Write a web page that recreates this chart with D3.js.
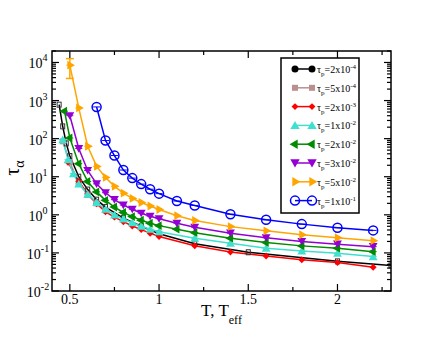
<!DOCTYPE html>
<html>
<head>
<meta charset="utf-8">
<script src="https://cdn.jsdelivr.net/npm/d3@7"></script>
<style>
  body { margin: 0; background: #fff; }
  svg { display: block; font-family: "Liberation Serif", "Times New Roman", serif; }
</style>
</head>
<body>
<div id="chart"></div>
<script>
// ---- data ----
const tBlack   = [0.44, 0.46, 0.48, 0.5, 0.55, 0.6, 0.65, 0.7, 0.8, 0.9, 1.0, 1.2, 1.5, 2.0, 2.3];
const tauBlack = [780, 210, 75, 35, 10, 4.6, 2.5, 1.6, 0.82, 0.5, 0.32, 0.175, 0.104, 0.06, 0.047];

const tBrown   = [0.46, 0.5, 0.55, 0.6, 0.65, 0.7];
const tauBrown = [85, 24, 6.8, 3.3, 2.0, 1.3];

const tRed   = [0.49, 0.55, 0.6, 0.65, 0.7, 0.75, 0.8, 0.85, 0.9, 0.95, 1.0, 1.2, 1.4, 1.6, 1.8, 2.0, 2.2];
const tauRed = [24, 7.5, 3.6, 1.95, 1.2, 0.87, 0.66, 0.51, 0.41, 0.33, 0.27, 0.155, 0.105, 0.083, 0.066, 0.056, 0.042];

const tCyan   = [0.46, 0.49, 0.52, 0.55, 0.6, 0.65, 0.7, 0.75, 0.8, 0.85, 0.9, 0.95, 1.0, 1.2, 1.4, 1.6, 1.8, 2.0, 2.2];
const tauCyan = [94, 28, 12, 6.5, 3.5, 2.1, 1.4, 1.0, 0.78, 0.62, 0.5, 0.42, 0.36, 0.244, 0.18, 0.133, 0.113, 0.098, 0.08];

const tGreen   = [0.47, 0.5, 0.55, 0.6, 0.65, 0.7, 0.75, 0.8, 0.85, 0.9, 0.95, 1.0, 1.1, 1.2, 1.4, 1.6, 1.8, 2.0, 2.2];
const tauGreen = [525, 104, 22, 7.5, 4.0, 2.4, 1.6, 1.15, 0.9, 0.72, 0.6, 0.52, 0.42, 0.34, 0.244, 0.187, 0.153, 0.133, 0.108];

const tPurple   = [0.5, 0.55, 0.6, 0.65, 0.7, 0.75, 0.8, 0.85, 0.9, 0.95, 1.0, 1.1, 1.2, 1.4, 1.6, 1.8, 2.0, 2.2];
const tauPurple = [400, 55, 14.6, 6.5, 3.8, 2.5, 1.8, 1.4, 1.1, 0.92, 0.79, 0.6, 0.47, 0.33, 0.25, 0.2, 0.17, 0.146];

const tOrange   = [0.5, 0.55, 0.6, 0.65, 0.7, 0.75, 0.8, 0.85, 0.9, 0.95, 1.0, 1.1, 1.2, 1.4, 1.6, 1.8, 2.0, 2.2];
const tauOrange = [8500, 640, 63, 18.7, 9.6, 5.6, 3.7, 2.7, 2.1, 1.7, 1.38, 0.95, 0.71, 0.49, 0.38, 0.3, 0.25, 0.21];
const errOrangeLow  = [3800];   // error bar on the first point
const errOrangeHigh = [12600];

const tBlue   = [0.65, 0.7, 0.75, 0.8, 0.85, 0.9, 0.95, 1.0, 1.1, 1.2, 1.4, 1.6, 1.8, 2.0, 2.2];
const tauBlue = [680, 89, 36, 15, 9.2, 6.4, 4.7, 3.6, 2.3, 1.76, 1.04, 0.74, 0.57, 0.46, 0.39];

const legendMantissa = ["2", "5", "2", "1", "2", "3", "5", "1"];
const legendExponent = ["-4", "-4", "-3", "-2", "-2", "-2", "-2", "-1"];

const xTicks = [0.5, 1, 1.5, 2];
const yTickExps = [-2, -1, 0, 1, 2, 3, 4];

// ---- layout ----
const width = 443, height = 342;
const plot = {left: 52, right: 391, top: 51, bottom: 291};

const svg = d3.select("#chart").append("svg")
    .attr("width", width)
    .attr("height", height);

const x = d3.scaleLinear().domain([0.4, 2.3]).range([plot.left, plot.right]);
const y = d3.scaleLog().domain([1e-2, 2e4]).range([plot.bottom, plot.top]);

const series = [
    {t: tBlack,  tau: tauBlack,  color: "#000000", sym: "circle"},
    {t: tBrown,  tau: tauBrown,  color: "#bc8f8f", sym: "square"},
    {t: tRed,    tau: tauRed,    color: "#ff0000", sym: "diamond"},
    {t: tCyan,   tau: tauCyan,   color: "#40e0d0", sym: "up", caps: true},
    {t: tGreen,  tau: tauGreen,  color: "#008b00", sym: "left", caps: true},
    {t: tPurple, tau: tauPurple, color: "#9400d3", sym: "down", caps: true},
    {t: tOrange, tau: tauOrange, color: "#ffa500", sym: "right", caps: true},
    {t: tBlue,   tau: tauBlue,   color: "#0000ff", sym: "open", caps: true}
];

// marker drawing
function drawMarker(g, sym, color, cx, cy, inPlot) {
    const tri = d3.symbol().type(d3.symbolTriangle).size(inPlot ? 34 : 38)();
    if (sym === "circle") {
        if (inPlot) {
            g.append("rect").attr("x", cx - 2).attr("y", cy - 2.5)
                .attr("width", 4).attr("height", 5)
                .attr("fill", "none").attr("stroke", "#333").attr("stroke-width", 1);
        } else {
            g.append("circle").attr("cx", cx).attr("cy", cy).attr("r", 3.5).attr("fill", color);
        }
    } else if (sym === "square") {
        g.append("rect").attr("x", cx - 3).attr("y", cy - 3)
            .attr("width", 6).attr("height", 6).attr("fill", color);
    } else if (sym === "diamond") {
        g.append("path").attr("d", d3.symbol().type(d3.symbolSquare).size(24)())
            .attr("transform", `translate(${cx},${cy}) rotate(45)`).attr("fill", color);
    } else if (sym === "open") {
        g.append("circle").attr("cx", cx).attr("cy", cy).attr("r", 4.5)
            .attr("fill", "none").attr("stroke", color).attr("stroke-width", 1.5);
    } else {
        const rot = {up: 0, right: 90, down: 180, left: 270}[sym];
        g.append("path").attr("d", tri)
            .attr("transform", `translate(${cx},${cy + (sym === "up" ? 1 : sym === "down" ? -1 : 0)}) rotate(${rot})`)
            .attr("fill", color);
    }
}

// ---- data series ----
const dataG = svg.append("g");
const lineGen = d3.line().x(d => x(d[0])).y(d => y(d[1]));

series.forEach(s => {
    const pts = s.t.map((t, i) => [t, s.tau[i]]);
    dataG.append("path")
        .datum(pts)
        .attr("d", lineGen)
        .attr("fill", "none")
        .attr("stroke", s.color)
        .attr("stroke-width", 1.5);
});

// orange error bar on the slowest point
dataG.append("line")
    .attr("x1", x(tOrange[0])).attr("x2", x(tOrange[0]))
    .attr("y1", y(errOrangeLow[0])).attr("y2", y(errOrangeHigh[0]))
    .attr("stroke", "#ffa500").attr("stroke-width", 1.5);
[errOrangeLow[0], errOrangeHigh[0]].forEach(v => {
    dataG.append("line")
        .attr("x1", x(tOrange[0]) - 4).attr("x2", x(tOrange[0]) + 4)
        .attr("y1", y(v)).attr("y2", y(v))
        .attr("stroke", "#ffa500").attr("stroke-width", 1.5);
});

series.forEach(s => {
    s.t.forEach((t, i) => {
        const cx = x(t), cy = y(s.tau[i]);
        drawMarker(dataG, s.sym, s.color, cx, cy, true);
        if (s.caps) {
            dataG.append("line")
                .attr("x1", cx - 3.5).attr("x2", cx + 3.5)
                .attr("y1", cy).attr("y2", cy)
                .attr("stroke", s.color).attr("stroke-width", 1);
        }
    });
});

// clip anything outside: white bands around the frame
svg.append("rect").attr("x", 0).attr("y", 0).attr("width", width).attr("height", plot.top).attr("fill", "#fff");
svg.append("rect").attr("x", plot.right).attr("y", 0).attr("width", width - plot.right).attr("height", height).attr("fill", "#fff");

// ---- axes ----
const axisG = svg.append("g").attr("stroke", "#000").attr("stroke-width", 1.2);

const xMinor = d3.range(0.5, 2.3, 0.25).filter(v => !xTicks.includes(+v.toFixed(2)));
// bottom & top ticks
xTicks.forEach(v => {
    axisG.append("line").attr("x1", x(v)).attr("x2", x(v)).attr("y1", plot.bottom).attr("y2", plot.bottom - 7);
    axisG.append("line").attr("x1", x(v)).attr("x2", x(v)).attr("y1", plot.top).attr("y2", plot.top + 7);
});
xMinor.forEach(v => {
    axisG.append("line").attr("x1", x(v)).attr("x2", x(v)).attr("y1", plot.bottom).attr("y2", plot.bottom - 4);
    axisG.append("line").attr("x1", x(v)).attr("x2", x(v)).attr("y1", plot.top).attr("y2", plot.top + 4);
});

// y ticks (log, with minors)
yTickExps.forEach(e => {
    const v = Math.pow(10, e);
    axisG.append("line").attr("x1", plot.left).attr("x2", plot.left + 7).attr("y1", y(v)).attr("y2", y(v));
    axisG.append("line").attr("x1", plot.right).attr("x2", plot.right - 7).attr("y1", y(v)).attr("y2", y(v));
    for (let k = 2; k <= 9; k++) {
        const mv = k * v;
        if (mv > y.domain()[1]) break;
        axisG.append("line").attr("x1", plot.left).attr("x2", plot.left + 4).attr("y1", y(mv)).attr("y2", y(mv));
        axisG.append("line").attr("x1", plot.right).attr("x2", plot.right - 4).attr("y1", y(mv)).attr("y2", y(mv));
    }
});

// frame
svg.append("rect")
    .attr("x", plot.left).attr("y", plot.top)
    .attr("width", plot.right - plot.left).attr("height", plot.bottom - plot.top)
    .attr("fill", "none").attr("stroke", "#000").attr("stroke-width", 1.5);

// tick labels
svg.append("g").selectAll("text")
    .data(xTicks).enter().append("text")
    .attr("x", d => x(d)).attr("y", plot.bottom + 13)
    .attr("text-anchor", "middle")
    .attr("font-size", 14)
    .text(d => d);

const yl = svg.append("g").selectAll("text")
    .data(yTickExps).enter().append("text")
    .attr("x", 38).attr("y", d => y(Math.pow(10, d)) + 6)
    .attr("text-anchor", "middle")
    .attr("font-size", 14);
yl.append("tspan").text("10");
yl.append("tspan").attr("dy", -7).attr("font-size", 10).text(d => d);

// axis titles
const xt = svg.append("text")
    .attr("x", (plot.left + plot.right) / 2).attr("y", 316)
    .attr("text-anchor", "middle").attr("font-size", 17);
xt.append("tspan").text("T, T");
xt.append("tspan").attr("dy", 8).attr("font-size", 12).text("eff");

const ytl = svg.append("text")
    .attr("transform", "translate(19,168) rotate(-90)")
    .attr("text-anchor", "middle").attr("font-size", 20);
ytl.append("tspan").text("τ");
ytl.append("tspan").attr("dy", 5).attr("font-size", 14).text("α");

// ---- legend ----
const leg = svg.append("g");
leg.append("rect")
    .attr("x", 281).attr("y", 58).attr("width", 78).attr("height", 155)
    .attr("fill", "#fff").attr("stroke", "#000").attr("stroke-width", 1.5);

series.forEach((s, i) => {
    const ly = 69 + i * 18.8;
    leg.append("line").attr("x1", 295).attr("x2", 312).attr("y1", ly).attr("y2", ly)
        .attr("stroke", s.color).attr("stroke-width", 1.5);
    drawMarker(leg, s.sym, s.color, 295, ly, false);
    drawMarker(leg, s.sym, s.color, 312, ly, false);
    const tx = leg.append("text").attr("x", 317).attr("y", ly + 4).attr("font-size", 10);
    tx.append("tspan").text("τ");
    tx.append("tspan").attr("dy", 3).attr("font-size", 7).text("p");
    tx.append("tspan").attr("dy", -3).text("=" + legendMantissa[i] + "x10");
    tx.append("tspan").attr("dy", -4).attr("font-size", 7).text(legendExponent[i]);
});
</script>
</body>
</html>
